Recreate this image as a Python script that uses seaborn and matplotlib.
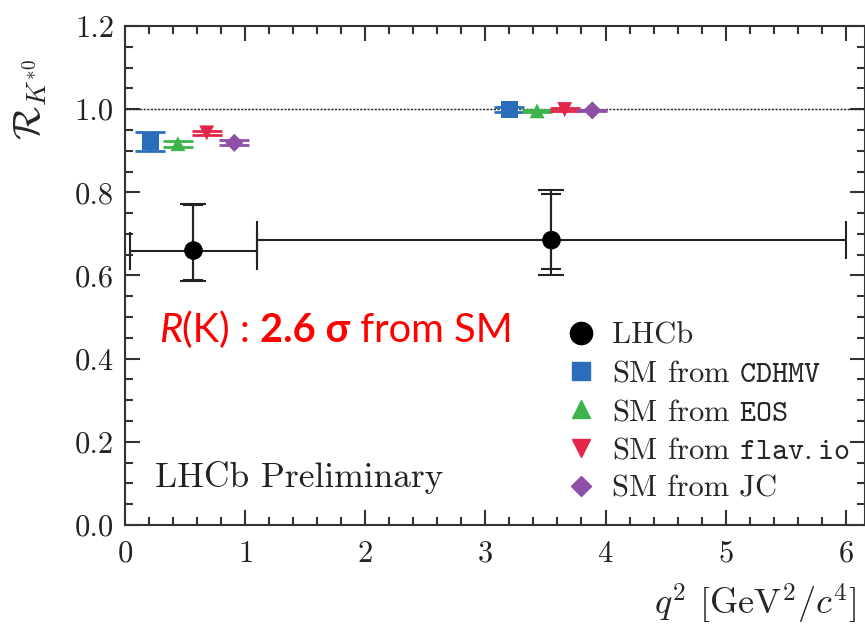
import numpy as np
import pandas as pd
import matplotlib
matplotlib.use("Agg")
import matplotlib.pyplot as plt
import seaborn as sns
from matplotlib.lines import Line2D
from matplotlib.ticker import MultipleLocator, FormatStrFormatter
from matplotlib.offsetbox import TextArea, HPacker, AnchoredOffsetbox

# ---------------- data ----------------
lhcb_q2_lo = [0.045, 1.1]
lhcb_q2_hi = [1.1, 6.0]
lhcb_q2_pt = [0.57, 3.55]
lhcb_R = [0.66, 0.685]
lhcb_stat_up = [0.11, 0.11]
lhcb_stat_dn = [0.07, 0.069]
lhcb_tot_up = [0.112, 0.12]
lhcb_tot_dn = [0.073, 0.085]

sm_sources = ["CDHMV", "EOS", "flav.io", "JC"]
sm_q2_low = [0.21, 0.44, 0.68, 0.91]
sm_R_low = [0.922, 0.917, 0.943, 0.919]
sm_err_low = [0.023, 0.007, 0.005, 0.006]
sm_q2_cen = [3.20, 3.43, 3.66, 3.89]
sm_R_cen = [1.000, 0.996, 0.999, 0.997]
sm_err_cen = [0.006, 0.002, 0.003, 0.002]

legend_labels = ["LHCb", r"SM from $\mathtt{CDHMV}$", r"SM from $\mathtt{EOS}$",
                 r"SM from $\mathtt{flav.io}$", "SM from JC"]

# ---------------- style ----------------
sns.set_theme(style="ticks")
plt.rcParams.update({
    "font.family": "cmr10",
    "mathtext.fontset": "cm",
    "axes.unicode_minus": False,
    "axes.formatter.use_mathtext": True,
    "axes.edgecolor": "#333333",
    "axes.linewidth": 1.5,
    "xtick.color": "#333333",
    "ytick.color": "#333333",
    "xtick.labelcolor": "#222222",
    "ytick.labelcolor": "#222222",
})

colors = {"CDHMV": "#2a6ebb", "EOS": "#3cb44b", "flav.io": "#e3264a", "JC": "#8e4fa6"}
markers = {"CDHMV": "s", "EOS": "^", "flav.io": "v", "JC": "D"}
sizes = {"CDHMV": 150, "EOS": 115, "flav.io": 115, "JC": 85}

df_sm = pd.DataFrame({
    "q2": sm_q2_low + sm_q2_cen,
    "R": sm_R_low + sm_R_cen,
    "err": sm_err_low + sm_err_cen,
    "source": sm_sources + sm_sources,
})

fig = plt.figure(figsize=(8.65, 6.26), dpi=100)
ax = fig.add_axes([125 / 865, 101 / 626, 740 / 865, 499 / 626])

ax.axhline(1.0, ls=(0, (1.6, 1.0)), lw=1.0, color="#222222", zorder=1)

# SM error bars
for src in sm_sources:
    sub = df_sm[df_sm.source == src]
    ax.errorbar(sub.q2, sub.R, yerr=sub.err, fmt="none", ecolor=colors[src],
                elinewidth=2.0, capsize=10.5, capthick=2.0, zorder=3)

sns.scatterplot(data=df_sm, x="q2", y="R", hue="source", style="source",
                size="source", sizes=sizes, markers=markers, palette=colors,
                edgecolor="none", legend=False, ax=ax, zorder=4)

# LHCb points
q2_pt = np.array(lhcb_q2_pt)
xerr = [q2_pt - np.array(lhcb_q2_lo), np.array(lhcb_q2_hi) - q2_pt]
ax.errorbar(q2_pt, lhcb_R, xerr=xerr, fmt="none", ecolor="#222222",
            elinewidth=1.5, capsize=14, capthick=1.5, zorder=5)
ax.errorbar(q2_pt, lhcb_R, yerr=[lhcb_tot_dn, lhcb_tot_up], fmt="none",
            ecolor="#222222", elinewidth=1.5, capsize=9.5, capthick=1.5, zorder=5)
ax.errorbar(q2_pt, lhcb_R, yerr=[lhcb_stat_dn, lhcb_stat_up], fmt="none",
            ecolor="#222222", elinewidth=1.5, capsize=7, capthick=1.5, zorder=5)
sns.scatterplot(x=lhcb_q2_pt, y=lhcb_R, color="black", s=180, marker="o",
                edgecolor="none", ax=ax, zorder=6)

# axes
ax.set_xlim(0, 6.16)
ax.set_ylim(0, 1.2)
ax.xaxis.set_major_locator(MultipleLocator(1))
ax.xaxis.set_minor_locator(MultipleLocator(0.2))
ax.yaxis.set_major_locator(MultipleLocator(0.2))
ax.yaxis.set_minor_locator(MultipleLocator(0.05))
ax.yaxis.set_major_formatter(FormatStrFormatter("%.1f"))
ax.tick_params(which="both", direction="in", top=True, right=True, width=1.5)
ax.tick_params(which="major", length=11, labelsize=22)
ax.tick_params(axis="x", which="major", pad=11)
ax.tick_params(axis="y", which="major", pad=8)
ax.tick_params(which="minor", length=6)
for s in ax.spines.values():
    s.set_visible(True)

ax.set_xlabel(r"$q^2$ [GeV$^2/c^4$]", fontsize=26, ha="right")
ax.xaxis.set_label_coords(0.988, -0.114)
ax.set_ylabel(r"$\mathcal{R}_{K^{*0}}$", fontsize=28)
ax.yaxis.set_label_coords(-0.103, 0.852)

ax.text(0.25, 0.115, "LHCb Preliminary", fontsize=25.5, ha="left", va="center",
        color="#222222")

# legend
handles = [Line2D([], [], marker="o", color="black", ls="none", markersize=16)]
for src, ms in zip(sm_sources, [13, 13.5, 13.5, 10.5]):
    handles.append(Line2D([], [], marker=markers[src], color=colors[src],
                          ls="none", markersize=ms))
ax.legend(handles, legend_labels, loc="upper left", bbox_to_anchor=(0.596, 0.406),
          frameon=False, fontsize=22, handlelength=1.0, handletextpad=0.5,
          labelspacing=0.35, borderpad=0, borderaxespad=0)

# red annotation
tp = dict(color="#ff0000", fontsize=28.7, family="Lato")
parts = [TextArea("R", textprops=dict(tp, style="italic")),
         TextArea("(K) : ", textprops=tp),
         TextArea("2.6 \u03c3", textprops=dict(tp, weight="bold")),
         TextArea(" from SM", textprops=tp)]
pack = HPacker(children=parts, align="baseline", pad=0, sep=0)
ab = AnchoredOffsetbox(loc="center left", child=pack, pad=0, borderpad=0,
                       frameon=False, bbox_to_anchor=(0.283, 0.469),
                       bbox_transform=ax.transData)
ax.add_artist(ab)

fig.savefig("out.png", dpi=100)
